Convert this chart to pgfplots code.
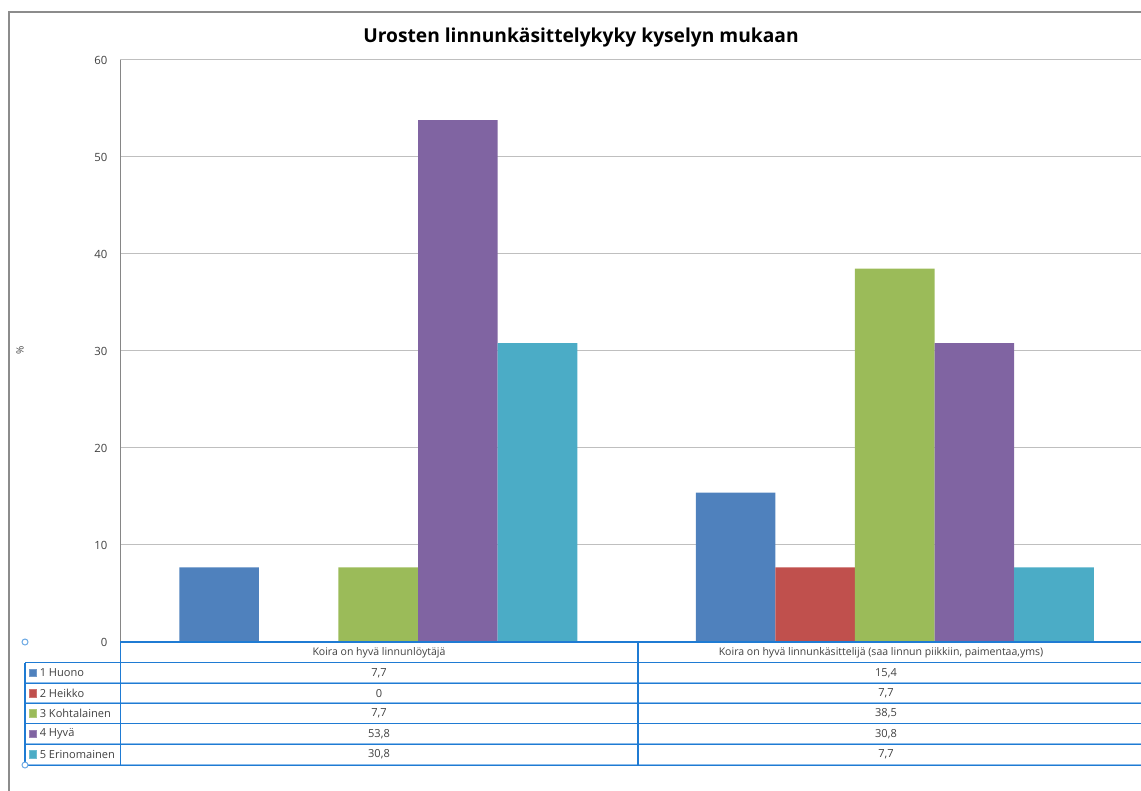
\documentclass[border=0pt]{standalone}
\usepackage{fontspec}
\setmainfont{Open Sans}
\usepackage{pgfplots}
\usepackage{pgfplotstable}
\pgfplotsset{compat=1.18}
\definecolor{c1}{HTML}{4F81BD}
\definecolor{c2}{HTML}{C0504D}
\definecolor{c3}{HTML}{9BBB59}
\definecolor{c4}{HTML}{8064A2}
\definecolor{c5}{HTML}{4BACC6}
\definecolor{gridgray}{HTML}{BFBFBF}
\definecolor{axisgray}{HTML}{868686}
\definecolor{framegray}{HTML}{8C8C8C}
\definecolor{tblue}{HTML}{1F7BD3}
\definecolor{tlight}{HTML}{8DBDEB}
\definecolor{txt}{HTML}{404040}
\pgfplotstableread{
x huono heikko kohtalainen hyva erinomainen
0 7.7 0 7.7 53.8 30.8
1 15.4 7.7 38.5 30.8 7.7
}\datatable
\newcommand\trow[5]{%
  \fill[#2!80!white] (29,#1-4.2) rectangle (37,#1+4.2);
  \fill[#2] (30,#1-3.2) rectangle (36,#1+3.2);
  \node[anchor=west,inner sep=0pt] at (39.5,#1) {#3};
  \node at (379,#1) {#4};
  \node at (886,#1) {#5};
}
\begin{document}
\begin{tikzpicture}[x=0.75pt,y=-0.75pt]
\useasboundingbox (0,0) rectangle (1141,791);
% outer frame
\draw[framegray,line width=0.9pt] (9,791) -- (9,12) -- (1141,12);
\begin{axis}[
  at={(90pt,-45pt)}, anchor=north west,
  scale only axis, width=765.75pt, height=436.5pt,
  xmin=-0.5, xmax=1.4767, ymin=0, ymax=60,
  ybar=0pt, bar width=59.7pt,
  ytick={0,10,...,60}, xtick=\empty,
  axis y line*=left, axis x line=none,
  y axis line style={draw=axisgray,line width=0.75pt},
  ymajorgrids, grid style={draw=gridgray,line width=0.75pt},
  major tick length=0pt,
  /pgf/number format/assume math mode=true,
  yticklabel style={font=\fontsize{8.5}{10}\selectfont, text=txt, xshift=-6pt},
  clip=false,
]
\addplot[fill=c1,draw=none] table[x=x,y=huono]{\datatable};
\addplot[fill=c2,draw=none] table[x=x,y=heikko]{\datatable};
\addplot[fill=c3,draw=none] table[x=x,y=kohtalainen]{\datatable};
\addplot[fill=c4,draw=none] table[x=x,y=hyva]{\datatable};
\addplot[fill=c5,draw=none] table[x=x,y=erinomainen]{\datatable};
\end{axis}
% title and y label
\node[font=\fontsize{14.4}{16}\selectfont\bfseries, text=black] at (581,38) {Urosten linnunkäsittelykyky kyselyn mukaan};
\node[font=\fontsize{7.5}{9}\selectfont, text=txt, rotate=90] at (20,350) {\%};
% data table
\draw[tblue,line width=0.9pt] (120,642) -- (1141,642);
\foreach \yy in {662.7,683.3,703.5,723.8,744.3,765} {
  \draw[tlight,line width=0.6pt] (25,\yy-0.8) -- (1141,\yy-0.8);
  \draw[tblue,line width=0.7pt] (25,\yy) -- (1141,\yy);
}
\draw[tblue,line width=0.9pt] (25,662.7) -- (25,765);
\draw[tblue,line width=0.9pt] (120.5,642) -- (120.5,765);
\draw[tblue,line width=0.9pt] (638,642) -- (638,765);
\draw[tlight!70!tblue,fill=white,line width=0.75pt] (25,642) circle (3);
\draw[tlight!70!tblue,fill=white,line width=0.75pt] (25,765) circle (3);
\begin{scope}[font=\fontsize{7.9}{9}\selectfont, text=txt]
\node at (379,652.3) {Koira on hyvä linnunlöytäjä};
\node at (881,652.3) {Koira on hyvä linnunkäsittelijä (saa linnun piikkiin, paimentaa,yms)};
\end{scope}
\begin{scope}[font=\fontsize{8.3}{9}\selectfont, text=txt]
\trow{673}{c1}{1 Huono}{7,7}{15,4}
\trow{693.4}{c2}{2 Heikko}{0}{7,7}
\trow{713.6}{c3}{3 Kohtalainen}{7,7}{38,5}
\trow{734}{c4}{4 Hyvä}{53,8}{30,8}
\trow{754.6}{c5}{5 Erinomainen}{30,8}{7,7}
\end{scope}
\end{tikzpicture}
\end{document}
